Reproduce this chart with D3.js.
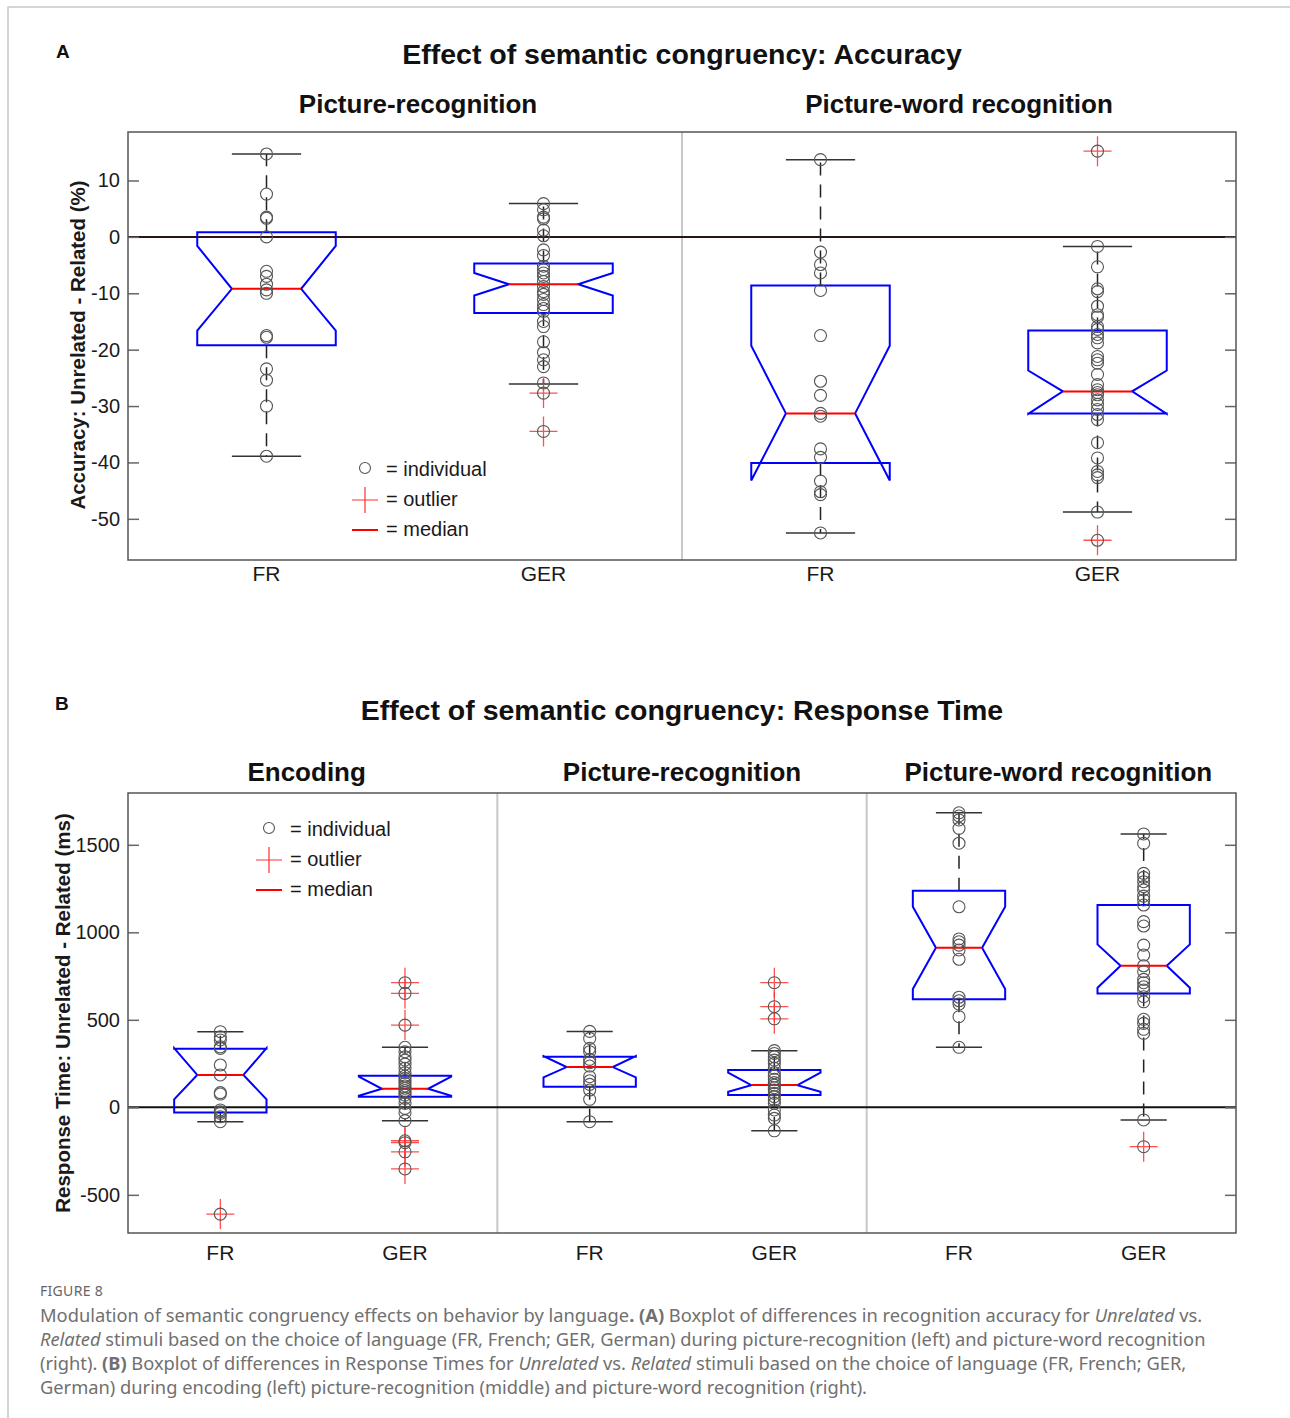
<!DOCTYPE html>
<html>
<head>
<meta charset="utf-8">
<script src="https://cdn.jsdelivr.net/npm/d3@7"></script>
<style>
body { margin: 0; background: #fff; }
svg text { font-family: "Liberation Sans", Arial, sans-serif; }
</style>
</head>
<body>
<svg id="fig" width="1290" height="1418"></svg>
<script>
// ---- panel A : accuracy (%) ----
const accCats = ["FR", "GER", "FR", "GER"];
const accTasks = ["Picture-recognition", "Picture-word recognition"];
const accTicks = [-50, -40, -30, -20, -10, 0, 10];
const accQ1 = [-19.2, -13.5, -40.1, -31.3];
const accMed = [-9.2, -8.4, -31.3, -27.4];
const accQ3 = [0.8, -4.7, -8.6, -16.6];
const accNotchLo = [-16.6, -10.4, -43.2, -31.4];
const accNotchHi = [-1.6, -6.4, -19.3, -23.7];
const accWhiskLo = [-38.9, -26.1, -52.5, -48.8];
const accWhiskHi = [14.7, 5.9, 13.7, -1.7];
const accPoints = [
    [14.7, 7.6, 3.5, 3.3, 0, -6.1, -7.0, -8.4, -9.4, -10.0, -17.5, -17.8, -23.4, -25.4, -30.0, -38.9],
    [5.9, 4.8, 3.5, 3.2, 1.2, 0.2, -2.3, -3.3, -5.2, -5.8, -6.4, -7.0, -7.9, -8.8, -9.7, -10.2, -11.1, -12.0, -12.7, -13.2, -15.0, -15.9, -18.6, -20.5, -21.8, -23.0, -25.9],
    [13.7, -2.7, -4.9, -6.4, -9.5, -17.5, -25.6, -28.1, -31.3, -31.8, -37.6, -39.1, -43.3, -45.2, -45.7, -52.5],
    [-1.7, -5.3, -9.2, -9.7, -12.3, -13.8, -14.2, -15.9, -16.4, -17.3, -17.9, -18.8, -21.2, -21.8, -22.4, -24.4, -26.2, -27.1, -27.6, -28.0, -28.9, -29.7, -30.6, -31.5, -32.4, -36.5, -39.2, -41.6, -42.2, -42.7, -48.8]
];
const accOutliers = [[], [-27.7, -34.5], [], [15.2, -53.8]];

// ---- panel B : response time (ms) ----
const rtCats = ["FR", "GER", "FR", "GER", "FR", "GER"];
const rtTasks = ["Encoding", "Picture-recognition", "Picture-word recognition"];
const rtTicks = [-500, 0, 500, 1000, 1500];
const rtQ1 = [-29, 61, 118, 70, 617, 651];
const rtMed = [185, 106, 230, 127, 912, 809];
const rtQ3 = [335, 181, 289, 213, 1238, 1156];
const rtNotchLo = [46, 66, 171, 89, 676, 683];
const rtNotchHi = [338, 176, 293, 198, 1146, 931];
const rtWhiskLo = [-82, -76, -82, -134, 343, -72];
const rtWhiskHi = [432, 343, 434, 324, 1683, 1562];
const rtPoints = [
    [432, 403, 385, 346, 337, 242, 185, 84, 76, -15, -25, -34, -54, -82],
    [343, 318, 289, 270, 247, 223, 198, 179, 166, 152, 137, 122, 109, 95, 84, 70, 51, 23, -6, -31, -76],
    [434, 394, 337, 318, 274, 255, 236, 175, 152, 131, 99, 46, -82],
    [324, 308, 289, 270, 251, 223, 198, 179, 160, 141, 127, 112, 99, 80, 61, 42, 23, -15, -44, -63, -134],
    [1683, 1665, 1642, 1594, 1509, 1146, 962, 946, 927, 899, 846, 629, 609, 590, 518, 343],
    [1562, 1508, 1337, 1314, 1289, 1261, 1242, 1207, 1185, 1156, 1061, 1036, 927, 870, 809, 775, 731, 712, 689, 670, 632, 603, 503, 480, 446, 423, -72]
];
const rtOutliers = [[-610], [712, 651, 470, -191, -202, -254, -352], [], [712, 575, 506], [], [-225]];

const svg = d3.select('#fig');

// figure frame (page border)
svg.append('path')
    .attr('d', 'M8,1418 V7 H1290')
    .attr('fill', 'none')
    .attr('stroke', '#c8c8c8')
    .attr('stroke-width', 1.5);

function drawPanel(o) {
    const g = svg.append('g');
    const n = o.cats.length;
    const x = d3.scaleLinear().domain([0.5, n + 0.5]).range([128, 1236]);
    const y = d3.scaleLinear().domain(o.yDomain).range([o.bottom, o.top]);
    const ntask = o.tasks.length;

    // dividers between subplots
    for (let k = 1; k < ntask; k++) {
        g.append('line')
            .attr('x1', x(2 * k + 0.5)).attr('x2', x(2 * k + 0.5))
            .attr('y1', o.top).attr('y2', o.bottom)
            .attr('stroke', '#c8c8c8').attr('stroke-width', 2);
    }

    // zero reference line
    g.append('line')
        .attr('x1', 128).attr('x2', 1236)
        .attr('y1', y(0)).attr('y2', y(0))
        .attr('stroke', o.zeroColor).attr('stroke-width', 2);

    // axes, ticks inward
    g.append('g')
        .attr('transform', 'translate(128,0)')
        .call(d3.axisLeft(y).tickValues(o.ticks).tickSize(-11).tickPadding(8).tickFormat(d => String(d)))
        .call(a => a.select('.domain').remove())
        .call(a => a.selectAll('line').attr('stroke', '#666').attr('stroke-width', 1.5))
        .call(a => a.selectAll('text').attr('font-size', 20).attr('fill', '#1a1a1a')
            .style('font-family', '"Liberation Sans", Arial, sans-serif'));
    g.append('g')
        .attr('transform', 'translate(1236,0)')
        .call(d3.axisRight(y).tickValues(o.ticks).tickSize(-11).tickFormat(''))
        .call(a => a.select('.domain').remove())
        .call(a => a.selectAll('line').attr('stroke', '#666').attr('stroke-width', 1.5));

    g.append('rect')
        .attr('x', 128).attr('y', o.top)
        .attr('width', 1108).attr('height', o.bottom - o.top)
        .attr('fill', 'none').attr('stroke', '#555').attr('stroke-width', 1.5);

    // category labels
    g.selectAll('.cat').data(o.cats).enter().append('text')
        .attr('x', (d, i) => x(i + 1))
        .attr('y', o.bottom + o.catDy)
        .attr('text-anchor', 'middle')
        .attr('font-size', 21)
        .attr('fill', '#1a1a1a')
        .text(d => d);

    const w = 0.25;
    const line = d3.line();

    o.cats.forEach((c, i) => {
        const cx = i + 1;
        const bx = g.append('g');
        // whiskers
        [[o.q3[i], o.whHi[i]], [o.q1[i], o.whLo[i]]].forEach(p => {
            bx.append('line')
                .attr('x1', x(cx)).attr('x2', x(cx))
                .attr('y1', y(p[0])).attr('y2', y(p[1]))
                .attr('stroke', '#222').attr('stroke-width', 1.5)
                .attr('stroke-dasharray', '13,9');
        });
        [o.whHi[i], o.whLo[i]].forEach(v => {
            bx.append('line')
                .attr('x1', x(cx - w / 2)).attr('x2', x(cx + w / 2))
                .attr('y1', y(v)).attr('y2', y(v))
                .attr('stroke', '#333').attr('stroke-width', 1.5);
        });
        // notched box
        const pts = [
            [cx - w, o.q3[i]], [cx - w, o.nHi[i]], [cx - w / 2, o.med[i]], [cx - w, o.nLo[i]], [cx - w, o.q1[i]],
            [cx + w, o.q1[i]], [cx + w, o.nLo[i]], [cx + w / 2, o.med[i]], [cx + w, o.nHi[i]], [cx + w, o.q3[i]]
        ].map(p => [x(p[0]), y(p[1])]);
        bx.append('path')
            .attr('d', line(pts) + 'Z')
            .attr('fill', 'none')
            .attr('stroke', '#0000ff')
            .attr('stroke-width', 2);
        bx.append('line')
            .attr('x1', x(cx - w / 2)).attr('x2', x(cx + w / 2))
            .attr('y1', y(o.med[i])).attr('y2', y(o.med[i]))
            .attr('stroke', '#ff0000').attr('stroke-width', 2);
        // outlier crosses
        bx.selectAll('.out').data(o.outliers[i]).enter().append('path')
            .attr('d', d => `M${x(cx) - 14},${y(d)}H${x(cx) + 14}M${x(cx)},${y(d) - 15}V${y(d) + 15}`)
            .attr('stroke', '#ff3030').attr('stroke-opacity', 0.85).attr('stroke-width', 1.3)
            .attr('fill', 'none');
        // individuals
        bx.selectAll('.ind').data(o.points[i].concat(o.outliers[i])).enter().append('circle')
            .attr('cx', x(cx))
            .attr('cy', d => y(d))
            .attr('r', 6)
            .attr('fill', 'none')
            .attr('stroke', '#555')
            .attr('stroke-width', 1.1);
    });

    // legend
    const lg = g.append('g').attr('transform', `translate(${o.legend[0]},${o.legend[1]})`);
    lg.append('circle').attr('cx', 0).attr('cy', 0).attr('r', 5.5)
        .attr('fill', 'none').attr('stroke', '#555').attr('stroke-width', 1.1);
    lg.append('path').attr('d', 'M-13,32H13M0,19V45')
        .attr('stroke', '#ff3030').attr('stroke-width', 1.2).attr('fill', 'none');
    lg.append('line').attr('x1', -13).attr('x2', 13).attr('y1', 62).attr('y2', 62)
        .attr('stroke', '#ff0000').attr('stroke-width', 2);
    ['= individual', '= outlier', '= median'].forEach((t, k) => {
        lg.append('text')
            .attr('x', 21).attr('y', k * 30 + 8)
            .attr('font-size', 20).attr('fill', '#1a1a1a')
            .text(t);
    });

    // y label
    svg.append('text')
        .attr('transform', `translate(${o.ylabelX},${(o.top + o.bottom) / 2 + o.ylabelDy}) rotate(-90)`)
        .attr('text-anchor', 'middle')
        .attr('font-size', 20.5)
        .attr('font-weight', 'bold')
        .attr('fill', '#1a1a1a')
        .text(o.ylabel);

    // titles
    svg.append('text')
        .attr('x', o.letterX).attr('y', o.letterY)
        .attr('font-size', 19).attr('font-weight', 'bold').attr('fill', '#111')
        .text(o.letter);
    svg.append('text')
        .attr('x', 682).attr('y', o.titleY)
        .attr('text-anchor', 'middle')
        .attr('font-size', 28.5).attr('font-weight', 'bold').attr('fill', '#111')
        .text(o.title);
    o.tasks.forEach((t, k) => {
        svg.append('text')
            .attr('x', x(2 * k + 1.5) + o.subDx[k]).attr('y', o.subY)
            .attr('text-anchor', 'middle')
            .attr('font-size', 26).attr('font-weight', 'bold').attr('fill', '#111')
            .text(t);
    });
}

drawPanel({
    cats: accCats, tasks: accTasks, ticks: accTicks,
    q1: accQ1, med: accMed, q3: accQ3, nLo: accNotchLo, nHi: accNotchHi,
    whLo: accWhiskLo, whHi: accWhiskHi, points: accPoints, outliers: accOutliers,
    yDomain: [-57.3, 18.6], top: 132, bottom: 560,
    zeroColor: '#2a1414', catDy: 21,
    legend: [365, 468],
    ylabel: 'Accuracy: Unrelated - Related (%)', ylabelX: 85, ylabelDy: -1,
    letter: 'A', letterX: 56, letterY: 58,
    title: 'Effect of semantic congruency: Accuracy', titleY: 64,
    subY: 113, subDx: [13, 0]
});

drawPanel({
    cats: rtCats, tasks: rtTasks, ticks: rtTicks,
    q1: rtQ1, med: rtMed, q3: rtQ3, nLo: rtNotchLo, nHi: rtNotchHi,
    whLo: rtWhiskLo, whHi: rtWhiskHi, points: rtPoints, outliers: rtOutliers,
    yDomain: [-718, 1796], top: 793, bottom: 1233,
    zeroColor: '#111', catDy: 27,
    legend: [269, 828],
    ylabel: 'Response Time: Unrelated - Related (ms)', ylabelX: 70, ylabelDy: 0,
    letter: 'B', letterX: 55, letterY: 710,
    title: 'Effect of semantic congruency: Response Time', titleY: 720,
    subY: 781, subDx: [-6, 0, 7]
});

// caption
const cap = svg.append('g');
cap.append('text')
    .attr('x', 40).attr('y', 1296)
    .attr('font-size', 14).attr('fill', '#666').attr('letter-spacing', 0.3)
    .style('font-family', '"Noto Sans", sans-serif')
    .text('FIGURE 8');

const capLines = [
    [['Modulation of semantic congruency effects on behavior by language', ''], ['. (A)', 'b'], [' Boxplot of differences in recognition accuracy for ', ''], ['Unrelated', 'i'], [' vs.', '']],
    [['Related', 'i'], [' stimuli based on the choice of language (FR, French; GER, German) during picture-recognition (left) and picture-word recognition', '']],
    [['(right). ', ''], ['(B)', 'b'], [' Boxplot of differences in Response Times for ', ''], ['Unrelated', 'i'], [' vs. ', ''], ['Related', 'i'], [' stimuli based on the choice of language (FR, French; GER,', '']],
    [['German) during encoding (left) picture-recognition (middle) and picture-word recognition (right).', '']]
];
capLines.forEach((ln, k) => {
    const t = cap.append('text')
        .attr('x', 40).attr('y', 1322 + k * 24)
        .attr('font-size', 18.3).attr('fill', '#707070')
        .style('font-family', '"Noto Sans", "Open Sans", sans-serif');
    ln.forEach(s => {
        t.append('tspan')
            .attr('font-weight', s[1] === 'b' ? 'bold' : null)
            .attr('font-style', s[1] === 'i' ? 'italic' : null)
            .text(s[0]);
    });
});
</script>
</body>
</html>
